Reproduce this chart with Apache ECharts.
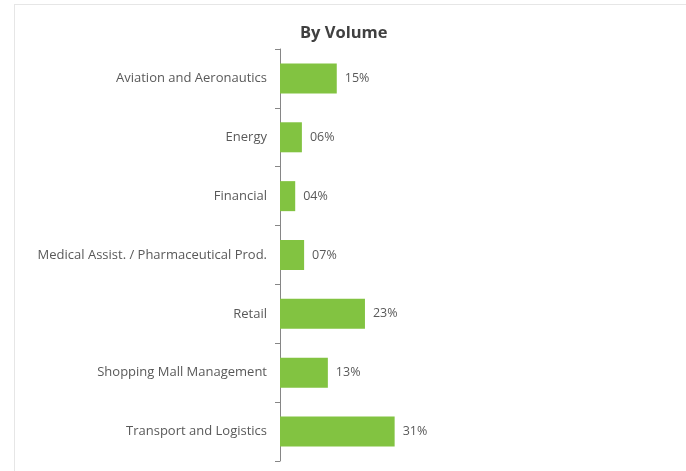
<!DOCTYPE html>
<html><head><meta charset="utf-8">
<script src="https://cdn.jsdelivr.net/npm/echarts@6/dist/echarts.min.js"></script>
<style>
html,body{margin:0;padding:0;background:#fff;}
#frame{position:absolute;left:14px;top:4px;width:690px;height:480px;border:1px solid #e6e6e6;box-sizing:border-box;}
#c{position:absolute;left:0;top:0;width:686px;height:471px;}
</style></head>
<body><div id="frame"></div><div id="c"></div>
<script>
const categories = ["Aviation and Aeronautics","Energy","Financial","Medical Assist. / Pharmaceutical Prod.","Retail","Shopping Mall Management","Transport and Logistics"];
const values = [15.3, 5.9, 4.1, 6.5, 22.9, 12.9, 30.9];
const titleText = "By Volume";

const chart = echarts.init(document.getElementById('c'), null, {renderer:'canvas'});
const font = "'Open Sans', 'Noto Sans', sans-serif";
chart.setOption({
  animation:false,
  backgroundColor:'transparent',
  title:{text:titleText,left:295,top:20,
    textStyle:{fontFamily:font,fontSize:16.5,fontWeight:'bold',color:'#404040'}},
  grid:{left:280,top:49,width:371,height:412,containLabel:false},
  xAxis:{type:'value',min:0,max:100,show:false},
  yAxis:{type:'category',data:categories,inverse:true,
    axisLine:{show:true,lineStyle:{color:'#868686',width:1}},
    axisTick:{show:true,length:5,lineStyle:{color:'#868686'}},
    axisLabel:{fontFamily:font,fontSize:13,color:'#595959',margin:13},
    splitLine:{show:false}},
  series:[{type:'bar',data:values,barCategoryGap:'49%',
    itemStyle:{color:'#82C341'},
    label:{show:true,position:'right',distance:8,fontFamily:font,fontSize:12.5,color:'#595959',
      formatter:p=>String(Math.round(p.value)).padStart(2,'0')+'%'}}]
});
</script></body></html>
